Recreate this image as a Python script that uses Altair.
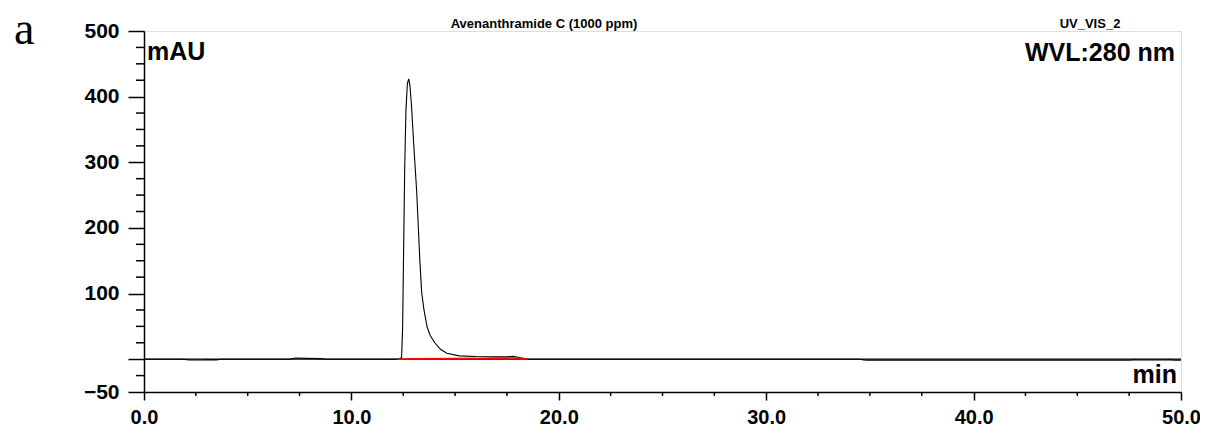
import altair as alt
import pandas as pd

# chromatogram trace (retention time in min, absorbance in mAU)
time_min = [0.0, 1.8, 2.2, 2.8, 3.2, 3.5, 3.7, 7.0, 7.3, 7.8, 8.5, 8.8, 12.2, 12.35,
            12.42, 12.47, 12.52, 12.57, 12.63, 12.7, 12.76, 12.82, 12.9, 13.0, 13.15,
            13.3, 13.39, 13.5, 13.65, 13.8, 14.02, 14.3, 14.6, 15.2, 16.0, 17.0, 17.5,
            17.8, 18.1, 18.5, 34.5, 34.7, 34.9, 35.1, 35.3, 47.5, 47.7, 49.5, 49.7, 50.0]
mau = [0.0, 0.0, -1.0, -1.2, -0.6, -1.0, 0.0, 0.0, 1.8, 1.2, 0.8, 0.0, 0.0, 0.5,
       3.0, 50.0, 170.0, 290.0, 380.0, 420.0, 427.0, 418.0, 385.0, 330.0, 254.0,
       150.0, 101.0, 75.0, 49.0, 36.0, 25.0, 15.0, 9.0, 5.0, 4.0, 3.5, 3.5,
       4.5, 2.5, 0.0, 0.0, -1.0, -1.5, -1.5, -1.5, -1.5, -1.0, -1.0, -1.5, -1.5]

# integration baseline (red)
base_time = [12.2, 13.0, 15.0, 17.0, 17.8, 18.1, 18.5]
base_mau = [0.0, 0.5, 1.0, 1.5, 1.8, 1.2, 0.0]

# axis ticks
y_major = [-50, 0, 100, 200, 300, 400, 500]
y_minor = [-25, 25, 50, 75, 125, 150, 175, 225, 250, 275, 325, 350, 375,
           425, 450, 475]
x_major = [0, 10, 20, 30, 40, 50]
x_minor = [2.5, 5, 7.5, 12.5, 15, 17.5, 22.5, 25, 27.5, 32.5, 35, 37.5,
           42.5, 45, 47.5]

trace = pd.DataFrame({"t": time_min, "v": mau})
base = pd.DataFrame({"t": base_time, "v": base_mau})
zero = pd.DataFrame({"t": [0.0], "t2": [50.0], "v": [0.0]})
ymin_df = pd.DataFrame({"v": y_minor})
xmin_df = pd.DataFrame({"t": x_minor})

FONT = "Liberation Sans"
W, H = 1037, 361

xscale = alt.Scale(domain=[0, 50], nice=False, zero=False)
yscale = alt.Scale(domain=[-50, 500], nice=False, zero=False)

xaxis = alt.Axis(
    values=x_major, title=None, grid=False, format=".1f", tickSize=8,
    labelFont=FONT, labelFontSize=20, labelFontWeight="bold", labelColor="black",
    labelPadding=7, domainColor="black", domainWidth=1.5, tickColor="black",
    tickWidth=1.5, labelOverlap=False, labelFlush=False,
)
yaxis = alt.Axis(
    values=y_major, title=None, grid=False, tickSize=16,
    labelExpr="datum.value == 0 ? '' : datum.label",
    labelFont=FONT, labelFontSize=21, labelFontWeight="bold", labelColor="black",
    labelPadding=9, domainColor="black", domainWidth=1.5, tickColor="black",
    tickWidth=1.5, labelOverlap=False, labelFlush=False,
)

zero_rule = alt.Chart(zero).mark_rule(color="black", strokeWidth=1.2).encode(
    x=alt.X("t:Q", scale=xscale, axis=xaxis),
    x2="t2:Q",
    y=alt.Y("v:Q", scale=yscale, axis=yaxis),
)

y_minor_ticks = alt.Chart(ymin_df).mark_rule(color="black", strokeWidth=1.5).encode(
    y=alt.Y("v:Q", scale=yscale),
    x=alt.value(-8),
    x2=alt.value(0),
)

x_minor_ticks = alt.Chart(xmin_df).mark_rule(color="black", strokeWidth=1.5).encode(
    x=alt.X("t:Q", scale=xscale),
    y=alt.value(H),
    y2=alt.value(H + 4),
)

line = alt.Chart(trace).mark_line(color="black", strokeWidth=1.1).encode(
    x=alt.X("t:Q", scale=xscale),
    y=alt.Y("v:Q", scale=yscale),
)

red = alt.Chart(base).mark_line(color="#ff0000", strokeWidth=1.6).encode(
    x=alt.X("t:Q", scale=xscale),
    y=alt.Y("v:Q", scale=yscale),
)


def label(text, x, y, size, align="left", weight="bold", font=FONT):
    return alt.Chart(pd.DataFrame({"s": [text]})).mark_text(
        font=font, fontSize=size, fontWeight=weight, align=align,
        baseline="alphabetic", color="black",
    ).encode(x=alt.value(x), y=alt.value(y), text="s:N")


texts = [
    label("mAU", 3, 29, 25),
    label("WVL:280 nm", 1031, 30, 25, align="right"),
    label("min", 1033, 352, 25, align="right"),
    label("Avenanthramide C (1000 ppm)", 400, -3, 13, align="center"),
    label("UV_VIS_2", 946, -3, 13, align="center"),
    label("a", -130, 13, 46, weight="normal", font="Liberation Serif"),
]

chart = alt.layer(zero_rule, y_minor_ticks, x_minor_ticks, line, red, *texts).properties(
    width=W, height=H,
    autosize=alt.AutoSizeParams(type="none"),
    padding={"left": 136, "top": 23, "right": 19, "bottom": 36},
).configure_view(stroke="black", strokeWidth=1.5).configure(background="white")

chart.save("out.html", embed_options={"renderer": "svg", "actions": False})
